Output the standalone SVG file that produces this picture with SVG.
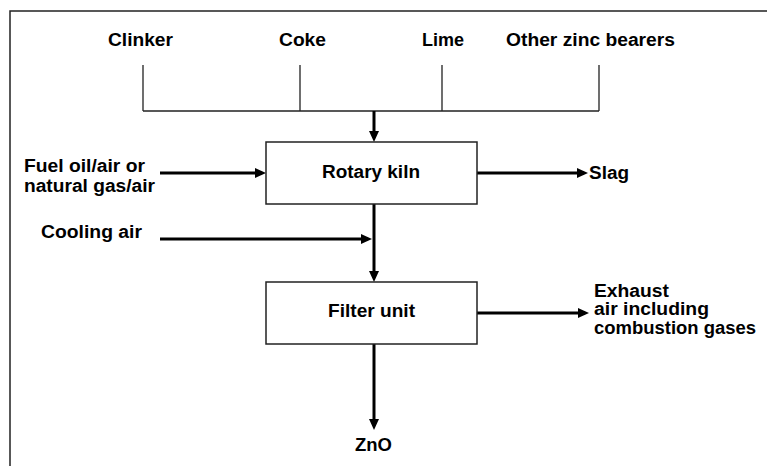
<svg xmlns="http://www.w3.org/2000/svg" width="767" height="466" viewBox="0 0 767 466">
  <style>
    text { font-family: "Liberation Sans", Arial, sans-serif; font-weight: bold; font-size: 18px; fill: #000; }
    .box { fill: #fff; stroke: #222; stroke-width: 1.5; }
    .thin { fill: none; stroke: #222; stroke-width: 1.3; }
    .flow { fill: none; stroke: #000; stroke-width: 3; marker-end: url(#ah); }
    .frame { fill: none; stroke: #222; stroke-width: 1.5; }
  </style>
  <defs>
    <marker id="ah" markerUnits="userSpaceOnUse" markerWidth="12" markerHeight="10" refX="7" refY="5" orient="auto">
      <path d="M0,0 L11,5 L0,10 z" fill="#000"/>
    </marker>
  </defs>
  <rect width="767" height="466" fill="#fff"/>
  <path class="frame" d="M10,470 L10,11 L770,11"/>

  <g id="connectors">
    <path class="thin" d="M143,65 V111 M300,65 V111 M442,65 V111 M599,65 V111 M143,111 H599"/>
    <line class="flow" x1="374" y1="111" x2="374" y2="138"/>
    <line class="flow" x1="160" y1="173" x2="262" y2="173"/>
    <line class="flow" x1="477" y1="173" x2="584" y2="173"/>
    <line class="flow" x1="160" y1="239" x2="368" y2="239"/>
    <line class="flow" x1="374" y1="204" x2="374" y2="278"/>
    <line class="flow" x1="477" y1="313" x2="585" y2="313"/>
    <line class="flow" x1="374" y1="344" x2="374" y2="426"/>
  </g>

  <g id="clinker"><text x="108" y="45.5" textLength="65" lengthAdjust="spacingAndGlyphs">Clinker</text></g>
  <g id="coke"><text x="279" y="45.5" textLength="47" lengthAdjust="spacingAndGlyphs">Coke</text></g>
  <g id="lime"><text x="422" y="45.5" textLength="42" lengthAdjust="spacingAndGlyphs">Lime</text></g>
  <g id="other"><text x="506" y="45.5" textLength="169" lengthAdjust="spacingAndGlyphs">Other zinc bearers</text></g>

  <g id="fuel">
    <text x="24" y="172" textLength="121" lengthAdjust="spacingAndGlyphs">Fuel oil/air or</text>
    <text x="24" y="192" textLength="131" lengthAdjust="spacingAndGlyphs">natural gas/air</text>
  </g>
  <g id="cooling"><text x="41" y="238" textLength="101" lengthAdjust="spacingAndGlyphs">Cooling air</text></g>

  <g id="kiln">
    <rect class="box" x="266" y="142" width="211" height="62"/>
    <text x="322" y="177.5" textLength="98" lengthAdjust="spacingAndGlyphs">Rotary kiln</text>
  </g>
  <g id="slag"><text x="589" y="179" textLength="40" lengthAdjust="spacingAndGlyphs">Slag</text></g>

  <g id="filter">
    <rect class="box" x="266" y="282" width="211" height="62"/>
    <text x="328" y="317" textLength="87" lengthAdjust="spacingAndGlyphs">Filter unit</text>
  </g>
  <g id="exhaust">
    <text x="594" y="296.5" textLength="75" lengthAdjust="spacingAndGlyphs">Exhaust</text>
    <text x="594" y="315" textLength="115" lengthAdjust="spacingAndGlyphs">air including</text>
    <text x="594" y="333.5" textLength="162" lengthAdjust="spacingAndGlyphs">combustion gases</text>
  </g>
  <g id="zno"><text x="355" y="451" textLength="37" lengthAdjust="spacingAndGlyphs">ZnO</text></g>
</svg>
